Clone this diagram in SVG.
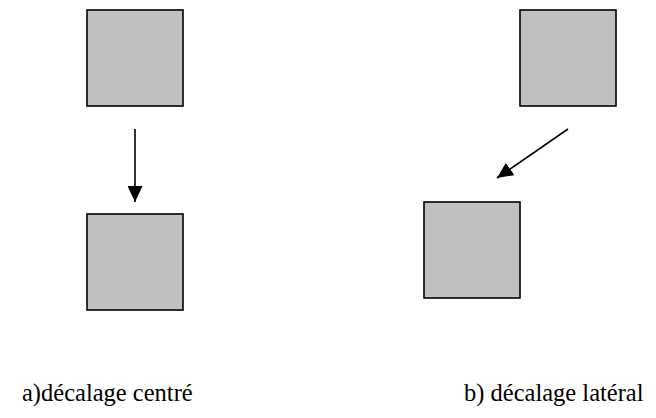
<svg xmlns="http://www.w3.org/2000/svg" width="656" height="418" viewBox="0 0 656 418">
  <style>
    .box { fill: #c0c0c0; stroke: #000; stroke-width: 1.6; }
    .edge { stroke: #000; stroke-width: 1.6; fill: none; }
    .label { font-family: "Liberation Serif", "Times New Roman", serif; font-size: 24.5px; fill: #000; }
  </style>
  <defs>
    <marker id="arrow" viewBox="0 0 16 15" refX="16" refY="7.5" markerWidth="16" markerHeight="15" markerUnits="userSpaceOnUse" orient="auto">
      <path d="M0,0 L16,7.5 L0,15 Z" fill="#000"/>
    </marker>
  </defs>
  <rect width="656" height="418" fill="#fff"/>

  <g id="a-top"><rect class="box" x="87" y="10" width="96" height="96"/></g>
  <g id="a-bottom"><rect class="box" x="87" y="214" width="96" height="96"/></g>
  <g id="b-top"><rect class="box" x="520" y="10" width="96" height="96"/></g>
  <g id="b-bottom"><rect class="box" x="424" y="202" width="96" height="96"/></g>

  <g id="connectors">
    <line class="edge" x1="135" y1="129" x2="135" y2="202" marker-end="url(#arrow)"/>
    <line class="edge" x1="568" y1="129" x2="497" y2="178" marker-end="url(#arrow)"/>
  </g>

  <g id="labels">
    <text class="label" x="22" y="401">a)décalage centré</text>
    <text class="label" x="464" y="401">b) décalage latéral</text>
  </g>
</svg>
